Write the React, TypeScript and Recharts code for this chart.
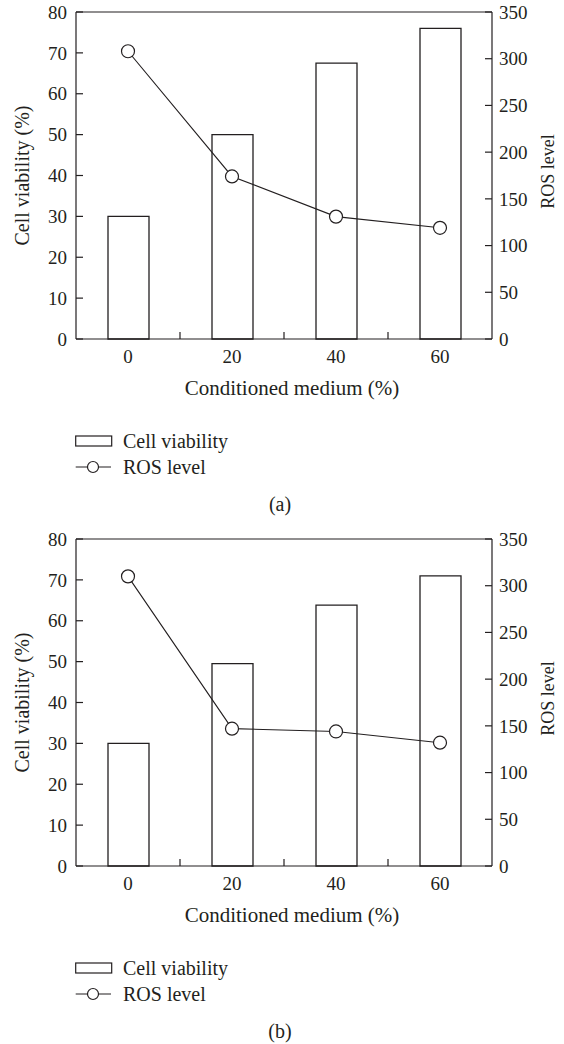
import React from "react";
import {
  ComposedChart,
  Bar,
  Line,
  XAxis,
  YAxis,
  Legend,
  ReferenceLine,
} from "recharts";

// ---- data ----
const categories = [0, 20, 40, 60];
const boundaryTicks = [10, 30, 50];
const viabilityA = [30, 50, 67.5, 76];
const rosA = [308, 174, 131, 119];
const viabilityB = [30, 49.5, 63.8, 71];
const rosB = [310, 147, 144, 132];
const leftTicks = [0, 10, 20, 30, 40, 50, 60, 70, 80];
const rightTicks = [0, 50, 100, 150, 200, 250, 300, 350];

const INK = "#231f20";
const FONT = "Liberation Serif, Tinos, Times New Roman, DejaVu Serif, serif";
const fontStyle = { fontFamily: FONT };

const xTicks = [...categories, ...boundaryTicks].sort((a, b) => a - b);

function renderXTick(props: any) {
  const { x, y, payload } = props;
  if (categories.includes(payload.value)) {
    return (
      <text
        x={x}
        y={y + 24}
        textAnchor="middle"
        fontSize={19}
        style={fontStyle}
        fill={INK}
      >
        {payload.value}
      </text>
    );
  }
  return <line x1={x} x2={x} y1={y} y2={y - 7} stroke={INK} strokeWidth={1.2} />;
}

function makeLegend(caption: string) {
  return (props: any) => {
    const payload = props.payload || [];
    const barName = payload[0] ? payload[0].value : "Cell viability";
    const lineName = payload[1] ? payload[1].value : "ROS level";
    return (
      <svg width={564} height={120} style={{ display: "block" }}>
        <rect x={75.7} y={30} width={36} height={10} fill="#fff" stroke={INK} strokeWidth={1.2} />
        <text x={123} y={42.3} fontSize={20} style={fontStyle} fill={INK}>
          {barName}
        </text>
        <line x1={75.7} x2={111} y1={61} y2={61} stroke={INK} strokeWidth={1.1} />
        <circle cx={93} cy={61} r={5.5} fill="#fff" stroke={INK} strokeWidth={1.2} />
        <text x={123} y={67.5} fontSize={20} style={fontStyle} fill={INK}>
          {lineName}
        </text>
        <text x={280} y={104.5} textAnchor="middle" fontSize={20} style={fontStyle} fill={INK}>
          {caption}
        </text>
      </svg>
    );
  };
}

function Panel({ viability, ros, caption }: { viability: number[]; ros: number[]; caption: string }) {
  const data = categories.map((c, i) => ({ conc: c, viability: viability[i], ros: ros[i] }));
  return (
    <ComposedChart
      width={564}
      height={526}
      data={data}
      margin={{ top: 12, right: 12, bottom: 0, left: 16 }}
      style={fontStyle}
    >
      <XAxis
        dataKey="conc"
        type="number"
        domain={[-10, 70]}
        ticks={xTicks}
        interval={0}
        tickLine={false}
        tickSize={0}
        tickMargin={0}
        tick={renderXTick}
        axisLine={{ stroke: INK, strokeWidth: 1.2 }}
        height={67}
        label={(p: any) => {
          const vb = p.viewBox;
          return (
            <text
              x={vb.x + vb.width / 2 + 8}
              y={vb.y + 56}
              textAnchor="middle"
              fontSize={21}
              style={fontStyle}
              fill={INK}
            >
              Conditioned medium (%)
            </text>
          );
        }}
      />
      <YAxis
        yAxisId="left"
        orientation="left"
        domain={[0, 80]}
        ticks={leftTicks}
        interval={0}
        width={60}
        tickSize={-7}
        tickMargin={16}
        tickLine={{ stroke: INK, strokeWidth: 1.2 }}
        axisLine={{ stroke: INK, strokeWidth: 1.2 }}
        tick={{ fontSize: 19, style: fontStyle, fill: INK }}
        label={(p: any) => {
          const vb = p.viewBox;
          const cx = vb.x + 13;
          const cy = vb.y + vb.height / 2;
          return (
            <text
              x={cx}
              y={cy}
              transform={`rotate(-90 ${cx} ${cy})`}
              textAnchor="middle"
              fontSize={20}
              style={fontStyle}
              fill={INK}
            >
              Cell viability (%)
            </text>
          );
        }}
      />
      <YAxis
        yAxisId="right"
        orientation="right"
        domain={[0, 350]}
        ticks={rightTicks}
        interval={0}
        width={60}
        tickSize={-7}
        tickMargin={14}
        tickLine={{ stroke: INK, strokeWidth: 1.2 }}
        axisLine={{ stroke: INK, strokeWidth: 1.2 }}
        tick={{ fontSize: 19, style: fontStyle, fill: INK }}
        label={(p: any) => {
          const vb = p.viewBox;
          const cx = vb.x + 62;
          const cy = vb.y + vb.height / 2 - 4;
          return (
            <text
              x={cx}
              y={cy}
              transform={`rotate(-90 ${cx} ${cy})`}
              textAnchor="middle"
              fontSize={18}
              style={fontStyle}
              fill={INK}
            >
              ROS level
            </text>
          );
        }}
      />
      <ReferenceLine yAxisId="left" y={80} stroke={INK} strokeWidth={1.2} ifOverflow="visible" />
      <Bar
        yAxisId="left"
        dataKey="viability"
        name="Cell viability"
        fill="#fff"
        stroke={INK}
        strokeWidth={1.3}
        barSize={41}
        isAnimationActive={false}
      />
      <Line
        yAxisId="right"
        type="linear"
        dataKey="ros"
        name="ROS level"
        stroke={INK}
        strokeWidth={1.1}
        dot={{ r: 6.5, fill: "#fff", stroke: INK, strokeWidth: 1.2 }}
        activeDot={false}
        isAnimationActive={false}
      />
      <Legend
        verticalAlign="bottom"
        align="left"
        layout="horizontal"
        content={makeLegend(caption)}
        wrapperStyle={{ left: 0, bottom: 0, width: 564, height: 120 }}
      />
    </ComposedChart>
  );
}

export default function App() {
  return (
    <div
      style={{
        position: "absolute",
        left: 0,
        top: 0,
        width: 564,
        height: 1044,
        background: "#fff",
        fontFamily: FONT,
      }}
    >
      <div style={{ position: "absolute", left: 0, top: 0 }}>
        <Panel viability={viabilityA} ros={rosA} caption="(a)" />
      </div>
      <div style={{ position: "absolute", left: 0, top: 527 }}>
        <Panel viability={viabilityB} ros={rosB} caption="(b)" />
      </div>
    </div>
  );
}
